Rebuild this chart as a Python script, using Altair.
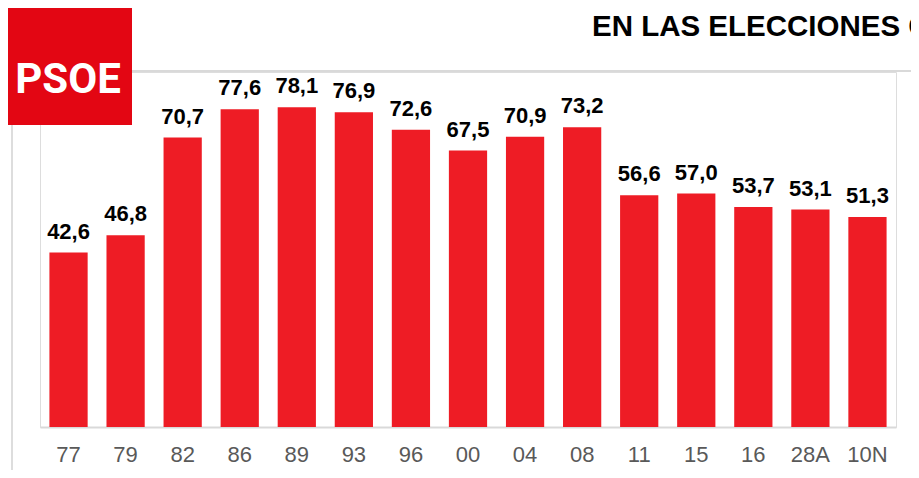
import altair as alt
import pandas as pd

# ---- data ----
years = ["77", "79", "82", "86", "89", "93", "96", "00", "04", "08", "11", "15", "16", "28A", "10N"]
values = [42.6, 46.8, 70.7, 77.6, 78.1, 76.9, 72.6, 67.5, 70.9, 73.2, 56.6, 57.0, 53.7, 53.1, 51.3]
labels = [f"{v:.1f}".replace(".", ",") for v in values]
title_text = "EN LAS ELECCIONES GENERALES"
logo_text = "PSOE"

df = pd.DataFrame({"year": years, "value": values, "label": labels})
one = pd.DataFrame({"k": [0]})

FONT = "Liberation Sans"
BAR = "#EE1C25"
GRID = "#D9D9D9"

x_enc = alt.X(
    "year:N", sort=years, title=None,
    scale=alt.Scale(paddingInner=0.33, paddingOuter=0.165),
    axis=alt.Axis(
        labelAngle=0, labelFontSize=22, labelColor="#595959", labelFont=FONT,
        ticks=False, tickSize=0, domainColor=GRID, domainWidth=2,
        labelPadding=34, labelBaseline="alphabetic", grid=False,
    ),
)
y_enc = alt.Y("value:Q", scale=alt.Scale(domain=[0, 86.7], nice=False, zero=True), axis=None)

base = alt.Chart(df)
bars = base.mark_bar(color=BAR).encode(x=x_enc, y=y_enc)
texts = base.mark_text(
    dy=-14, baseline="alphabetic", fontSize=22, fontWeight="bold", font=FONT, color="#000000"
).encode(x=alt.X("year:N", sort=years), y="value:Q", text="label:N")

top_line = alt.Chart(one).mark_rect(color=GRID).encode(
    x=alt.value(92), x2=alt.value(880), y=alt.value(-2), y2=alt.value(0)
)
left_line = alt.Chart(one).mark_rect(color="#DDDDDD").encode(
    x=alt.value(-29), x2=alt.value(-27), y=alt.value(53), y2=alt.value(410)
)
logo_box = alt.Chart(one).mark_rect(color="#E30613").encode(
    x=alt.value(-33), x2=alt.value(92), y=alt.value(-64), y2=alt.value(53)
)
logo = alt.Chart(one).mark_text(
    text=logo_text, color="#FFFFFF", fontSize=42, fontWeight="bold",
    font="Liberation Sans Narrow, Roboto, sans-serif", align="center", baseline="alphabetic",
).encode(x=alt.value(28), y=alt.value(21))
title = alt.Chart(one).mark_text(
    text=title_text, color="#000000", fontSize=29.5, fontWeight="bold",
    font=FONT, align="left", baseline="alphabetic",
).encode(x=alt.value(552), y=alt.value(-36))

chart = alt.layer(top_line, left_line, bars, texts, logo_box, logo, title).properties(
    width=856, height=355,
    autosize=alt.AutoSizeParams(type="none"),
    padding={"left": 32, "top": 64, "right": 15, "bottom": 43},
).configure_view(stroke=None).configure(background="#FFFFFF")

chart.save("out.html", embed_options={"renderer": "svg", "actions": False})
